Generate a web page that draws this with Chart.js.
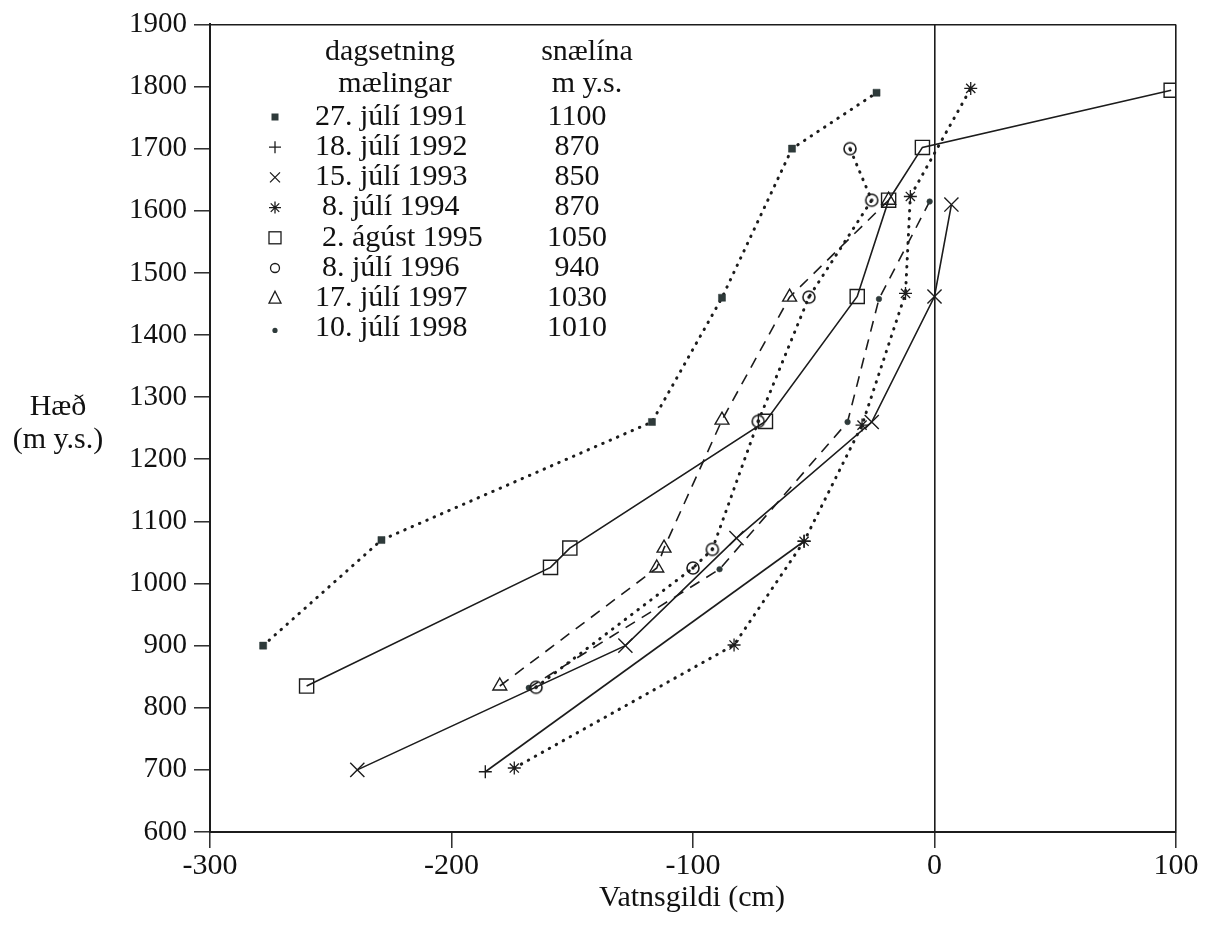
<!DOCTYPE html>
<html>
<head>
<meta charset="utf-8">
<script src="https://cdn.jsdelivr.net/npm/chart.js@4.4.1/dist/chart.umd.min.js"></script>
<style>
html,body{margin:0;padding:0;background:#fff;}
#wrap{width:1213px;height:927px;position:relative;}
</style>
</head>
<body>
<div id="wrap"><canvas id="c" width="1213" height="927"></canvas></div>
<script>
// ---- tick labels ----
const xTicks = [-300, -200, -100, 0, 100];
const yTicks = [600, 700, 800, 900, 1000, 1100, 1200, 1300, 1400, 1500, 1600, 1700, 1800, 1900];

// ---- legend texts ----
const dates = ['27. júlí 1991', '18. júlí 1992', '15. júlí 1993', '8. júlí 1994', '2. ágúst 1995', '8. júlí 1996', '17. júlí 1997', '10. júlí 1998'];
const snowline = [1100, 870, 850, 870, 1050, 940, 1030, 1010];

// ---- series (Vatnsgildi cm, Hæð m y.s.) ----
const x1991 = [-278, -229, -117, -88, -59, -24];
const y1991 = [900, 1070, 1260, 1460, 1700, 1790];
const x1992 = [-186, -54];
const y1992 = [697, 1068];
const x1993 = [-239, -128, -82, -26, 0, 7];
const y1993 = [700, 900, 1073, 1260, 1462, 1610];
const x1994 = [-174, -83, -54, -30, -12, -10, 15];
const y1994 = [703, 901, 1068, 1255, 1467, 1623, 1797];
const x1995 = [-260, -159, -151, -70, -32, -19, -5, 98];
const y1995 = [835, 1026, 1057, 1261, 1462, 1617, 1702, 1794];
const x1996 = [-165, -100, -92, -73, -52, -26, -35];
const y1996 = [833, 1025, 1055, 1261, 1461, 1617, 1700];
const x1997 = [-180, -115, -112, -88, -60, -19];
const y1997 = [835, 1025, 1057, 1263, 1461, 1617];
const x1998 = [-168, -89, -36, -23, -2];
const y1998 = [832, 1023, 1260, 1458, 1615];

const INK = '#1c1c1c';
const FILL = '#2e3a3a';
const FONT = '"Liberation Serif", "DejaVu Serif", serif';

function pts(xs, ys) { return xs.map((x, i) => ({ x: x, y: ys[i] })); }

function ringDot() {
  const c = document.createElement('canvas');
  c.width = 16; c.height = 16;
  const g = c.getContext('2d');
  g.strokeStyle = INK; g.lineWidth = 1.6;
  g.beginPath(); g.arc(8, 8, 6, 0, Math.PI * 2); g.stroke();
  g.fillStyle = INK;
  g.beginPath(); g.arc(8, 8, 1.7, 0, Math.PI * 2); g.fill();
  return c;
}

const DOT = { borderDash: [0.5, 7.5], borderCapStyle: 'round', borderWidth: 3 };
const DASH = { borderDash: [11, 8], borderWidth: 1.6 };
const SOLID = { borderDash: [], borderWidth: 1.6 };

function ds(label, xs, ys, line, pStyle, radius, filled, pbw) {
  return Object.assign({
    label: label,
    data: pts(xs, ys),
    borderColor: INK,
    backgroundColor: 'transparent',
    pointStyle: pStyle,
    pointRadius: radius,
    pointHoverRadius: radius,
    pointBorderColor: filled ? FILL : INK,
    pointBackgroundColor: filled ? FILL : 'rgba(0,0,0,0)',
    pointBorderWidth: pbw,
    tension: 0,
    fill: false
  }, line);
}

const datasets = [
  ds(dates[0], x1991, y1991, DOT, 'rect', 5, true, 0.5),
  ds(dates[1], x1992, y1992, SOLID, 'cross', 6.5, false, 1.4),
  ds(dates[2], x1993, y1993, SOLID, 'crossRot', 10, false, 1.4),
  ds(dates[3], x1994, y1994, DOT, 'star', 6.5, false, 1.3),
  ds(dates[4], x1995, y1995, SOLID, 'rect', 10, false, 1.4),
  ds(dates[5], x1996, y1996, DOT, ringDot(), 8, false, 1.4),
  ds(dates[6], x1997, y1997, DASH, 'triangle', 8, false, 1.4),
  ds(dates[7], x1998, y1998, DASH, 'circle', 2.8, true, 0.5)
];

function drawMarker(ctx, i, x, y) {
  ctx.save();
  ctx.strokeStyle = INK; ctx.fillStyle = FILL; ctx.lineWidth = 1.3;
  ctx.beginPath();
  switch (i) {
    case 0: ctx.fillRect(x - 3.5, y - 3.5, 7, 7); break;
    case 1: ctx.moveTo(x - 6, y); ctx.lineTo(x + 6, y); ctx.moveTo(x, y - 6); ctx.lineTo(x, y + 6); ctx.stroke(); break;
    case 2: ctx.moveTo(x - 5, y - 5); ctx.lineTo(x + 5, y + 5); ctx.moveTo(x + 5, y - 5); ctx.lineTo(x - 5, y + 5); ctx.stroke(); break;
    case 3:
      for (let k = 0; k < 4; k++) {
        const a = k * Math.PI / 4;
        ctx.moveTo(x - 6 * Math.sin(a), y - 6 * Math.cos(a));
        ctx.lineTo(x + 6 * Math.sin(a), y + 6 * Math.cos(a));
      }
      ctx.stroke(); break;
    case 4: ctx.strokeRect(x - 6, y - 6, 12, 12); break;
    case 5: ctx.arc(x, y, 4.5, 0, Math.PI * 2); ctx.stroke(); break;
    case 6: ctx.moveTo(x, y - 7); ctx.lineTo(x + 6, y + 5); ctx.lineTo(x - 6, y + 5); ctx.closePath(); ctx.stroke(); break;
    case 7: ctx.arc(x, y + 2, 2.6, 0, Math.PI * 2); ctx.fill(); break;
  }
  ctx.restore();
}

const textPlugin = {
  id: 'textPlugin',
  afterDraw(chart) {
    const ctx = chart.ctx;
    ctx.save();
    ctx.fillStyle = '#111';
    ctx.font = '30px ' + FONT;
    ctx.textBaseline = 'middle';
    ctx.textAlign = 'center';
    // axis titles
    ctx.fillText('Hæð', 58, 407);
    ctx.fillText('(m y.s.)', 58, 440);
    ctx.fillText('Vatnsgildi (cm)', 692, 898);
    // legend header
    ctx.fillText('dagsetning', 390, 52);
    ctx.fillText('mælingar', 395, 84);
    ctx.fillText('snælína', 587, 52);
    ctx.fillText('m y.s.', 587, 84);
    // legend rows
    for (let i = 0; i < dates.length; i++) {
      const y = 117 + 30.2 * i;
      drawMarker(ctx, i, 275, y);
      ctx.textAlign = 'left';
      const single = /^\d\./.test(dates[i]);
      ctx.fillText(dates[i], single ? 322 : 315, y);
      ctx.textAlign = 'center';
      ctx.fillText(String(snowline[i]), 577, y);
    }
    ctx.restore();
  }
};

new Chart(document.getElementById('c'), {
  type: 'line',
  data: { datasets: datasets },
  options: {
    responsive: false,
    devicePixelRatio: 1,
    animation: false,
    events: [],
    layout: { padding: { left: 0, right: 37, top: 24, bottom: 0 } },
    plugins: { legend: { display: false }, tooltip: { enabled: false } },
    scales: {
      x: {
        type: 'linear',
        min: -300, max: 100,
        afterBuildTicks: s => { s.ticks = xTicks.map(v => ({ value: v })); },
        afterFit: s => { s.height = 95; },
        border: { display: true, color: INK, width: 2 },
        grid: {
          drawOnChartArea: true,
          color: c => (c.tick && (c.tick.value === 0 || c.tick.value === 100)) ? INK : 'rgba(0,0,0,0)',
          lineWidth: 1.6,
          tickLength: 16,
          tickColor: INK,
          tickWidth: 1.4
        },
        ticks: {
          color: '#111',
          font: { family: FONT, size: 30 },
          padding: 0,
          maxRotation: 0,
          callback: v => String(v)
        }
      },
      y: {
        type: 'linear',
        min: 600, max: 1900,
        afterBuildTicks: s => { s.ticks = yTicks.map(v => ({ value: v })); },
        afterFit: s => { s.width = 210; },
        border: { display: true, color: INK, width: 2 },
        grid: {
          drawOnChartArea: true,
          color: c => (c.tick && c.tick.value === 1900) ? INK : 'rgba(0,0,0,0)',
          lineWidth: 1.6,
          tickLength: 16,
          tickColor: INK,
          tickWidth: 1.4
        },
        ticks: {
          color: '#111',
          font: { family: FONT, size: 29 },
          padding: 7,
          callback: v => String(v)
        }
      }
    }
  },
  plugins: [textPlugin]
});
</script>
</body>
</html>
